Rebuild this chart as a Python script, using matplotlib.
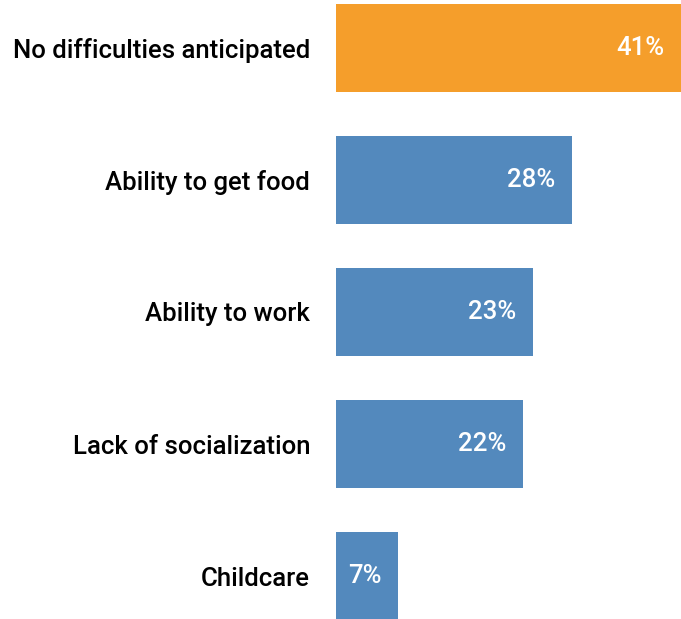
import matplotlib
matplotlib.use("Agg")
import matplotlib.pyplot as plt

# datos de la grafica
categorias = ["No difficulties anticipated", "Ability to get food",
              "Ability to work", "Lack of socialization", "Childcare"]
valores = [41.0, 28.0, 23.4, 22.2, 7.4]          # largo de barra
etiquetas = ["41%", "28%", "23%", "22%", "7%"]
colores = ["#F59E2B", "#5389BD", "#5389BD", "#5389BD", "#5389BD"]

plt.rcParams["font.family"] = ["Roboto", "DejaVu Sans"]

fig = plt.figure(figsize=(6.81, 6.19), dpi=100)
ax = fig.add_axes([336 / 681, -1 / 619, 345 / 681, 616 / 619])

pos = list(range(len(categorias)))
ax.barh(pos, valores, height=0.6667, color=colores)
ax.set_xlim(0, 41)
ax.set_ylim(4.3333, -0.3333)

for y, v, t in zip(pos, valores, etiquetas):
    ax.annotate(t, xy=(v, y), xytext=(-12, 0), textcoords="offset points",
                ha="right", va="center", color="white", fontsize=18.5,
                fontweight="medium")

ax.set_yticks(pos)
ax.set_yticklabels(categorias, fontsize=18.5, fontweight="medium", color="black")
ax.tick_params(axis="y", length=0, pad=18.7)
ax.set_xticks([])
for s in ax.spines.values():
    s.set_visible(False)

fig.savefig("out.png", dpi=100)
